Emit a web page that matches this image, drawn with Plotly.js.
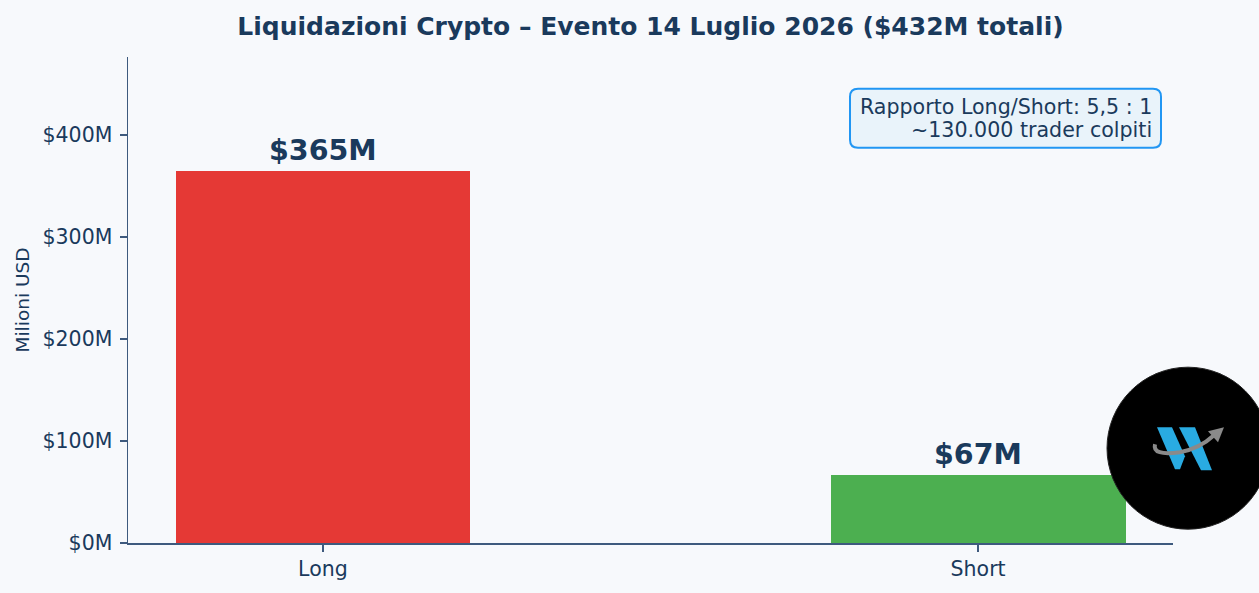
<!DOCTYPE html>
<html>
<head>
<meta charset="utf-8">
<script src="https://cdn.plot.ly/plotly-3.0.1.min.js"></script>
<style>
html,body{margin:0;padding:0;background:#f7f9fc;}
#chart{width:1259px;height:593px;}
</style>
</head>
<body>
<div id="chart"></div>
<script>
// ---- data ----
var categories = ["Long", "Short"];
var values = [365, 67];
var barLabels = ["$365M", "$67M"];
var barColors = ["#e53935", "#4caf50"];
var tickValues = [0, 100, 200, 300, 400];
var tickLabels = ["$0M", "$100M", "$200M", "$300M", "$400M"];
var chartTitle = "Liquidazioni Crypto – Evento 14 Luglio 2026 ($432M totali)";
var yTitle = "Milioni USD";
var infoLines = ["Rapporto Long/Short: 5,5 : 1", "~130.000 trader colpiti"];

var textColor = "#1a3a5c";
var axisColor = "#3e5a7e";
var FONT = "DejaVu Sans, Verdana, sans-serif";

var trace = {
  type: "bar",
  x: categories,
  y: values,
  width: 0.45,
  marker: {color: barColors, line: {width: 0}},
  hoverinfo: "x+y",
  showlegend: false
};

var annotations = categories.map(function (c, i) {
  return {
    xref: "x", yref: "y", x: c, y: values[i],
    text: "<b>" + barLabels[i] + "</b>",
    showarrow: false, yanchor: "bottom", yshift: 2,
    font: {family: FONT, size: 28.5, color: textColor}
  };
});

// info box lines
annotations.push({
  xref: "paper", yref: "paper", x: (1154 - 128) / 1045, y: (542.7 - 107) / 485.4,
  xanchor: "right", yanchor: "middle", align: "right", showarrow: false,
  text: infoLines[0], font: {family: FONT, size: 20.6, color: textColor}
});
annotations.push({
  xref: "paper", yref: "paper", x: (1154 - 128) / 1045, y: (542.7 - 130) / 485.4,
  xanchor: "right", yanchor: "middle", align: "right", showarrow: false,
  text: infoLines[1], font: {family: FONT, size: 20.6, color: textColor}
});

var shapes = [
  // rounded info box
  {
    type: "path", xref: "paper", yref: "paper",
    xsizemode: "pixel", ysizemode: "pixel",
    xanchor: (1161 - 128) / 1045, yanchor: (542.7 - 89) / 485.4,
    path: "M -8 0 L -303 0 Q -311 0 -311 -8 L -311 -51 Q -311 -59 -303 -59 L -8 -59 Q 0 -59 0 -51 L 0 -8 Q 0 0 -8 0 Z",
    fillcolor: "#e9f3fa", line: {color: "#2196f3", width: 2}
  },
  // logo circle
  {
    type: "circle", xref: "paper", yref: "paper",
    xsizemode: "pixel", ysizemode: "pixel",
    xanchor: (1188 - 128) / 1045, yanchor: (542.7 - 448) / 485.4,
    x0: -81, x1: 81, y0: -81, y1: 81,
    fillcolor: "#000000", line: {color: "#222222", width: 1}
  },
  // logo W strokes
  {
    type: "path", xref: "paper", yref: "paper",
    xsizemode: "pixel", ysizemode: "pixel",
    xanchor: (1188 - 128) / 1045, yanchor: (542.7 - 448) / 485.4,
    path: "M -31 21 L -16 21 L -3 -8 L -8 -21 L -13 -21 Z",
    fillcolor: "#29abe2", line: {width: 0}
  },
  {
    type: "path", xref: "paper", yref: "paper",
    xsizemode: "pixel", ysizemode: "pixel",
    xanchor: (1188 - 128) / 1045, yanchor: (542.7 - 448) / 485.4,
    path: "M -9 21 L 7 21 L 24 -22 L 13 -22 Z",
    fillcolor: "#29abe2", line: {width: 0}
  },
  // logo swoosh
  {
    type: "path", xref: "paper", yref: "paper",
    xsizemode: "pixel", ysizemode: "pixel",
    xanchor: (1188 - 128) / 1045, yanchor: (542.7 - 448) / 485.4,
    path: "M -33 4 Q -36 -8 -8 -4 Q 12 0 26 13",
    line: {color: "#8a8a8a", width: 4}
  },
  {
    type: "path", xref: "paper", yref: "paper",
    xsizemode: "pixel", ysizemode: "pixel",
    xanchor: (1188 - 128) / 1045, yanchor: (542.7 - 448) / 485.4,
    path: "M 20 17 L 36 21 L 30 6 Z",
    fillcolor: "#8a8a8a", line: {width: 0}
  }
];

var layout = {
  width: 1259, height: 593,
  paper_bgcolor: "#f7f9fc", plot_bgcolor: "#f7f9fc",
  margin: {l: 128, r: 86, t: 57.3, b: 50.3, pad: 0},
  font: {family: FONT, color: textColor},
  title: {
    text: "<b>" + chartTitle + "</b>",
    font: {family: FONT, size: 25, color: textColor},
    x: 0.5, xref: "paper", xanchor: "center",
    y: 1 - 26 / 593, yref: "container", yanchor: "middle"
  },
  xaxis: {
    type: "category",
    range: [-0.2975, 1.2975],
    showgrid: false, zeroline: false,
    showline: true, linecolor: axisColor, linewidth: 1.5,
    ticks: "outside", ticklen: 7, tickwidth: 1.5, tickcolor: axisColor,
    tickfont: {family: FONT, size: 20.5, color: textColor},
    fixedrange: true
  },
  yaxis: {
    range: [0, 476.5],
    tickvals: tickValues, ticktext: tickLabels,
    showgrid: false, zeroline: false,
    showline: true, linecolor: axisColor, linewidth: 1.5,
    ticks: "outside", ticklen: 7, tickwidth: 1.5, tickcolor: axisColor,
    ticklabelstandoff: 3,
    tickfont: {family: FONT, size: 20.5, color: textColor},
    title: {text: yTitle, font: {family: FONT, size: 18.5, color: textColor}, standoff: 8},
    fixedrange: true
  },
  bargap: 0,
  annotations: annotations,
  shapes: shapes
};

Plotly.newPlot("chart", [trace], layout, {displayModeBar: false, staticPlot: true});
</script>
</body>
</html>
